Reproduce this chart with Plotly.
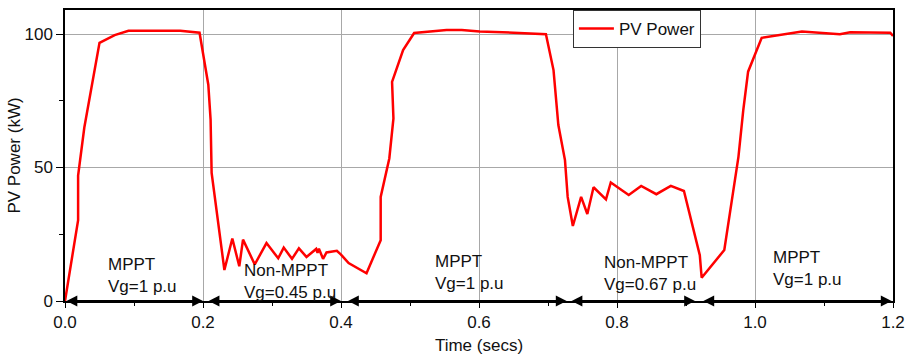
import plotly.graph_objects as go

# ---- data ----
time_s = [0.0, 0.019, 0.019, 0.028, 0.050, 0.072, 0.092, 0.167, 0.195, 0.2077, 0.211, 0.2125,
          0.231, 0.2425, 0.2526, 0.258, 0.275, 0.292, 0.309, 0.317, 0.329, 0.339, 0.350, 0.364,
          0.366, 0.368, 0.374, 0.379, 0.394, 0.400, 0.411, 0.437, 0.4575, 0.4575, 0.470, 0.476,
          0.474, 0.490, 0.506, 0.553, 0.575, 0.601, 0.650, 0.671, 0.697, 0.708, 0.715, 0.7246,
          0.7285, 0.736, 0.748, 0.757, 0.766, 0.784, 0.791, 0.817, 0.835, 0.857, 0.878, 0.897,
          0.920, 0.9227, 0.9555, 0.976, 0.983, 0.990, 1.0097, 1.068, 1.104, 1.123, 1.138, 1.159,
          1.196, 1.2]
pv_power_kw = [0.0, 30.3, 47.0, 65.0, 96.7, 99.6, 101.2, 101.2, 100.5, 81.0, 68.0, 48.0,
               11.6, 23.4, 13.0, 23.0, 13.7, 21.7, 16.0, 20.0, 15.8, 19.7, 16.5, 19.5,
               18.0, 19.6, 15.8, 18.2, 18.8, 17.4, 14.2, 10.4, 22.8, 39.0, 53.4, 68.4,
               82.1, 94.0, 100.4, 101.5, 101.5, 100.9, 100.5, 100.3, 99.9, 86.5, 65.9, 52.8,
               39.0, 28.1, 39.0, 32.6, 42.6, 38.1, 44.4, 39.7, 43.1, 40.0, 43.1, 41.2,
               17.2, 8.7, 19.1, 54.0, 71.5, 85.9, 98.6, 100.9, 100.3, 99.9, 100.7, 100.6,
               100.5, 99.3]

region_start = [0.0, 0.206, 0.408, 0.732, 0.923]
region_end = [0.2, 0.4, 0.727, 0.913, 1.198]
region_label_x = [0.060, 0.257, 0.534, 0.778, 1.0236]
region_label_y = [9.6, 7.4, 10.8, 10.4, 12.1]
region_labels = ["MPPT<br>Vg=1 p.u", "Non-MPPT<br>Vg=0.45 p.u", "MPPT<br>Vg=1 p.u",
                 "Non-MPPT<br>Vg=0.67 p.u", "MPPT<br>Vg=1 p.u"]

x_ticks = [0.0, 0.2, 0.4, 0.6, 0.8, 1.0, 1.2]
x_tick_text = ["0.0", "0.2", "0.4", "0.6", "0.8", "1.0", "1.2"]
y_ticks = [0, 50, 100]

FONT = "Liberation Sans, Arial, sans-serif"

fig = go.Figure()
fig.add_trace(go.Scatter(x=time_s, y=pv_power_kw, mode="lines", name="PV Power",
                         line=dict(color="#ff0000", width=2.5)))

annotations = []
for s, e in zip(region_start, region_end):
    annotations.append(dict(x=e, y=0, ax=s, ay=0, xref="x", yref="y", axref="x", ayref="y",
                            text="", showarrow=True, arrowside="end+start", arrowhead=2,
                            arrowsize=1.2, arrowwidth=1.8, arrowcolor="#000000", standoff=0,
                            startstandoff=0))
for lx, ly, txt in zip(region_label_x, region_label_y, region_labels):
    annotations.append(dict(x=lx, y=ly, xref="x", yref="y", text=txt, showarrow=False,
                            xanchor="left", yanchor="middle", align="left",
                            font=dict(family=FONT, size=17, color="#111111")))

fig.update_layout(
    width=907, height=355,
    margin=dict(l=65, r=14, t=10, b=54, autoexpand=False),
    paper_bgcolor="white", plot_bgcolor="white",
    font=dict(family=FONT, size=17, color="#111111"),
    showlegend=True,
    legend=dict(x=0.768, y=1.0, xanchor="right", yanchor="top",
                bordercolor="#333333", borderwidth=1, bgcolor="white",
                font=dict(family=FONT, size=17, color="#111111"),
                itemwidth=35, tracegroupgap=0),
    annotations=annotations,
    xaxis=dict(range=[0, 1.2], tickvals=x_ticks, ticktext=x_tick_text, automargin=False,
               showline=True, linecolor="#000000", linewidth=1.5, mirror=True,
               ticks="outside", ticklen=5, tickcolor="#000000", tickwidth=1,
               showgrid=True, gridcolor="#a8a8a8", gridwidth=1, zeroline=False,
               minor=dict(dtick=0.1, tick0=0, ticks="outside", ticklen=3,
                          tickcolor="#000000", showgrid=False),
               title=dict(text="Time (secs)", standoff=11,
                          font=dict(family=FONT, size=17, color="#111111")),
               tickfont=dict(family=FONT, size=17, color="#111111")),
    yaxis=dict(range=[0, 109], tickvals=y_ticks, automargin=False,
               showline=True, linecolor="#000000", linewidth=1.5, mirror=True,
               ticks="outside", ticklen=7, tickcolor="#000000", tickwidth=1,
               showgrid=True, gridcolor="#a8a8a8", gridwidth=1, zeroline=False,
               minor=dict(dtick=25, tick0=0, ticks="outside", ticklen=4,
                          tickcolor="#000000", showgrid=False),
               title=dict(text="PV Power (kW)", standoff=0,
                          font=dict(family=FONT, size=17, color="#111111")),
               tickfont=dict(family=FONT, size=17, color="#111111")),
)

fig.write_html("out.html")
